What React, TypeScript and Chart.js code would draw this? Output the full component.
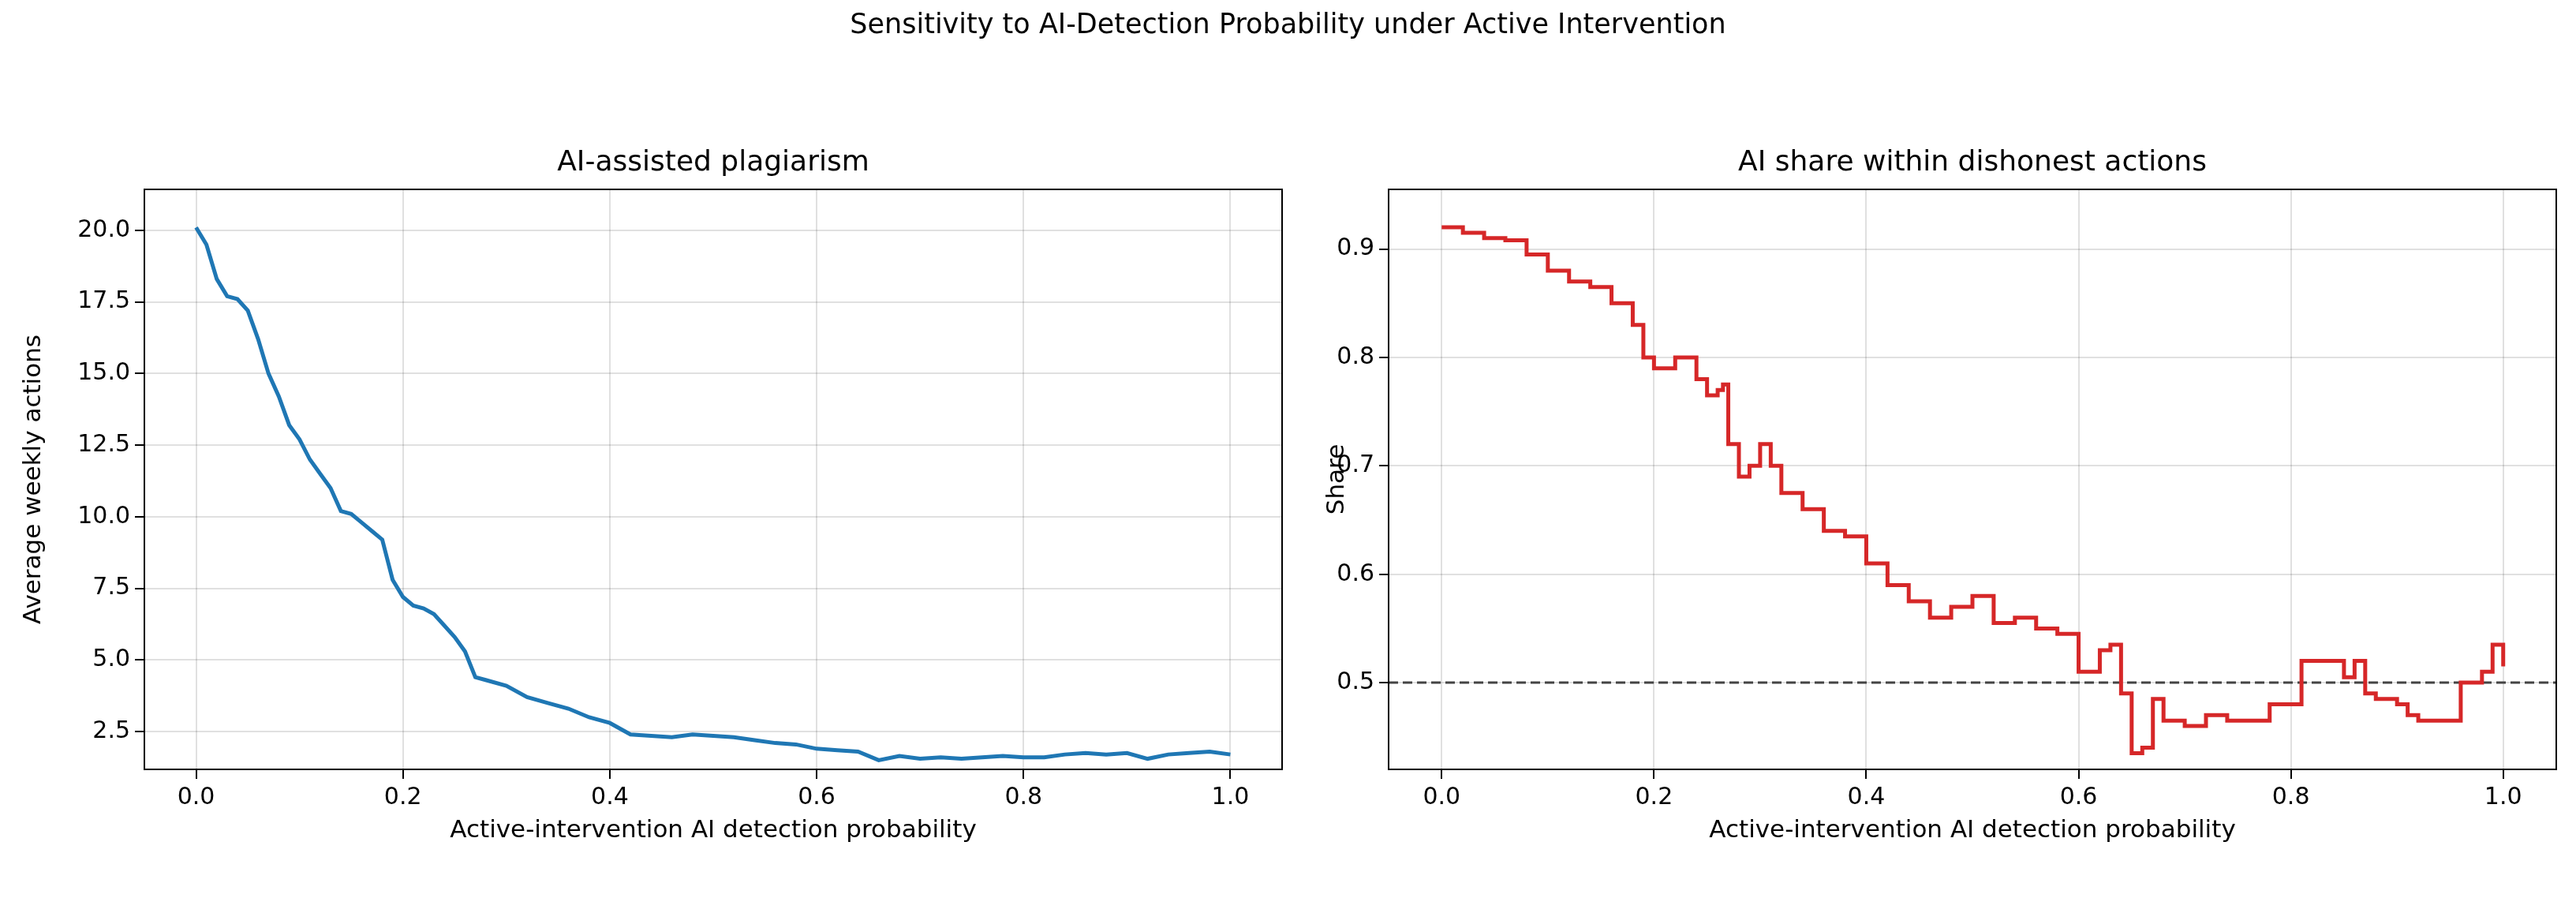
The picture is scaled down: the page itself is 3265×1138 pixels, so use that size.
import React, { useEffect, useRef } from "react";
import { Chart, registerables } from "chart.js";
Chart.register(...registerables);

const leftX = [0,0.01,0.02,0.03,0.04,0.05,0.06,0.07,0.08,0.09,0.10,0.11,0.12,0.13,0.14,0.15,0.16,0.17,0.18,0.19,0.20,0.21,0.22,0.23,0.24,0.25,0.26,0.27,0.28,0.30,0.32,0.34,0.36,0.38,0.40,0.42,0.44,0.46,0.48,0.50,0.52,0.54,0.56,0.58,0.60,0.62,0.64,0.66,0.68,0.70,0.72,0.74,0.76,0.78,0.80,0.82,0.84,0.86,0.88,0.90,0.92,0.94,0.96,0.98,1.00];
const leftY = [20.1,19.5,18.3,17.7,17.6,17.2,16.2,15.0,14.2,13.2,12.7,12.0,11.5,11.0,10.2,10.1,9.8,9.5,9.2,7.8,7.2,6.9,6.8,6.6,6.2,5.8,5.3,4.4,4.3,4.1,3.7,3.5,3.3,3.0,2.8,2.4,2.35,2.3,2.4,2.35,2.3,2.2,2.1,2.05,1.9,1.85,1.8,1.5,1.65,1.55,1.6,1.55,1.6,1.65,1.6,1.6,1.7,1.75,1.7,1.75,1.55,1.7,1.75,1.8,1.7];
const rightX = [0,0.02,0.04,0.06,0.08,0.10,0.12,0.14,0.16,0.18,0.19,0.20,0.21,0.22,0.23,0.24,0.25,0.26,0.265,0.27,0.28,0.29,0.30,0.31,0.32,0.34,0.36,0.38,0.40,0.42,0.44,0.46,0.48,0.50,0.52,0.54,0.56,0.58,0.60,0.62,0.63,0.64,0.65,0.66,0.67,0.68,0.70,0.72,0.74,0.76,0.78,0.80,0.81,0.83,0.85,0.86,0.87,0.88,0.90,0.91,0.92,0.94,0.96,0.98,0.99,1.00];
const rightY = [0.92,0.915,0.91,0.908,0.895,0.88,0.87,0.865,0.85,0.83,0.80,0.79,0.79,0.80,0.80,0.78,0.765,0.77,0.775,0.72,0.69,0.70,0.72,0.70,0.675,0.66,0.64,0.635,0.61,0.59,0.575,0.56,0.57,0.58,0.555,0.56,0.55,0.545,0.51,0.53,0.535,0.49,0.435,0.44,0.485,0.465,0.46,0.47,0.465,0.465,0.48,0.48,0.52,0.52,0.505,0.52,0.49,0.485,0.48,0.47,0.465,0.465,0.50,0.51,0.535,0.515];
const xTicks = [0, 0.2, 0.4, 0.6, 0.8, 1.0];
const leftTicks = [2.5, 5.0, 7.5, 10.0, 12.5, 15.0, 17.5, 20.0];
const rightTicks = [0.5, 0.6, 0.7, 0.8, 0.9];
const refLine = 0.5;

const FONT = "DejaVu Sans";

const frame = {
  id: "frame",
  afterDraw(chart: any) {
    const { ctx, chartArea: a } = chart;
    ctx.save();
    ctx.strokeStyle = "#000";
    ctx.lineWidth = 2;
    ctx.strokeRect(a.left, a.top, a.right - a.left, a.bottom - a.top);
    ctx.restore();
  },
};

function makeChart(canvas: HTMLCanvasElement, cfg: any) {
  const grid = { color: "rgba(0,0,0,0.12)", lineWidth: 2, tickLength: 12, tickColor: "#000", tickWidth: 2 };
  const border = { display: true, color: "#000", width: 2 };
  const tickFont = { family: FONT, size: 30 };
  return new Chart(canvas, {
    type: "line",
    data: { datasets: cfg.datasets },
    plugins: [frame],
    options: {
      animation: false, responsive: false, maintainAspectRatio: false,
      layout: { padding: { top: 240, right: cfg.padRight, left: cfg.padLeft, bottom: 62 } },
      plugins: { legend: { display: false }, tooltip: { enabled: false } },
      elements: { point: { radius: 0 } },
      scales: {
        x: {
          type: "linear", min: -0.05, max: 1.05, grid, border,
          afterBuildTicks: (s: any) => { s.ticks = xTicks.map(v => ({ value: v })); },
          afterFit: (s: any) => { s.height = 101; },
          ticks: { font: tickFont, color: "#000", padding: 6, maxRotation: 0, callback: (v: any) => Number(v).toFixed(1) },
          title: { display: true, text: "Active-intervention AI detection probability", font: { family: FONT, size: 31 }, color: "#000", padding: { top: 4 } },
        },
        y: {
          type: "linear", min: cfg.ymin, max: cfg.ymax, grid, border,
          afterBuildTicks: (s: any) => { s.ticks = cfg.yTicks.map((v: number) => ({ value: v })); },
          afterFit: (s: any) => { s.width = cfg.yWidth; },
          ticks: { font: tickFont, color: "#000", padding: 6, callback: (v: any) => Number(v).toFixed(1) },
          title: { display: true, text: cfg.yTitle, font: { family: FONT, size: 31 }, color: "#000", padding: { bottom: 6 } },
        },
      },
    } as any,
  });
}

export default function App() {
  const l = useRef<HTMLCanvasElement>(null);
  const r = useRef<HTMLCanvasElement>(null);
  useEffect(() => {
    const c1 = makeChart(l.current!, {
      datasets: [{ data: leftX.map((x, i) => ({ x, y: leftY[i] })), borderColor: "#1f77b4", borderWidth: 5, fill: false }],
      ymin: 1.18, ymax: 21.43, yTicks: leftTicks, yWidth: 163, padLeft: 20, padRight: 40, yTitle: "Average weekly actions",
    });
    const c2 = makeChart(r.current!, {
      datasets: [
        { data: rightX.map((x, i) => ({ x, y: rightY[i] })), borderColor: "#d62728", borderWidth: 5, fill: false, stepped: true },
        { data: [{ x: -0.05, y: refLine }, { x: 1.05, y: refLine }], borderColor: "#444", borderWidth: 3, borderDash: [12, 6], fill: false },
      ],
      ymin: 0.42, ymax: 0.955, yTicks: rightTicks, yWidth: 88, padLeft: 12, padRight: 25, yTitle: "Share",
    });
    return () => { c1.destroy(); c2.destroy(); };
  }, []);
  const t: React.CSSProperties = { position: "absolute", fontFamily: FONT, color: "#000", textAlign: "center", whiteSpace: "nowrap" };
  return (
    <div style={{ position: "relative", width: 3265, height: 1138, background: "#fff", margin: -8 }}>
      <canvas ref={l} width={1665} height={1138} style={{ position: "absolute", left: 0, top: 0 }} />
      <canvas ref={r} width={1605} height={1138} style={{ position: "absolute", left: 1660, top: 0 }} />
      <div style={{ ...t, left: 0, width: 3265, top: 10, fontSize: 35 }}>Sensitivity to AI-Detection Probability under Active Intervention</div>
      <div style={{ ...t, left: 183, width: 1442, top: 183, fontSize: 36 }}>AI-assisted plagiarism</div>
      <div style={{ ...t, left: 1760, width: 1480, top: 183, fontSize: 36 }}>AI share within dishonest actions</div>
    </div>
  );
}
